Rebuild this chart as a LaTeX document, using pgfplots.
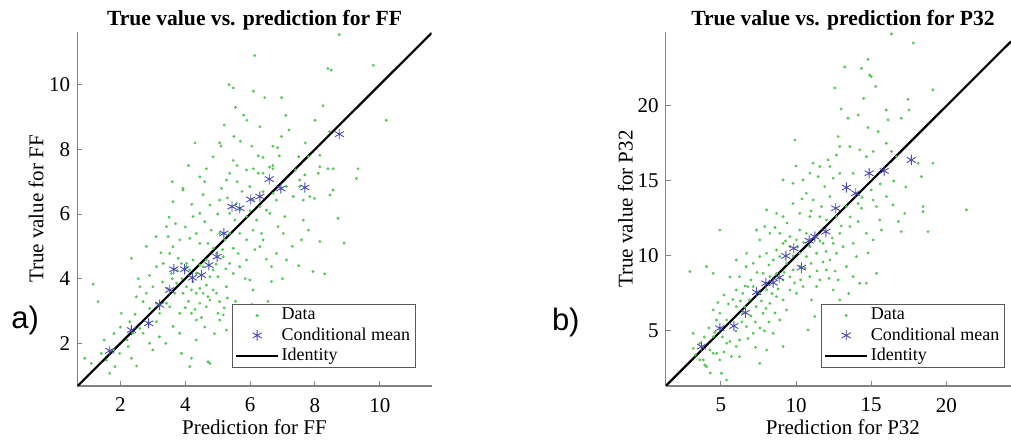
\documentclass[border=0pt]{standalone}
\usepackage{pgfplots}
\pgfplotsset{compat=1.18}
\usepackage{pgfplotstable}
\usepackage{fontspec}
\setmainfont{Liberation Serif}
\newfontfamily\panelfont{Liberation Sans}

\definecolor{datagreen}{RGB}{80,200,80}
\definecolor{meanblue}{RGB}{75,75,180}
\definecolor{axisgray}{RGB}{130,130,130}

% Scatter of true value against prediction, FF
\pgfplotstableread{
x y
8.75 11.55
6.14 10.90
9.80 10.60
8.40 10.50
8.50 10.45
5.48 9.90
6.10 9.80
6.45 9.60
6.97 9.60
10.20 8.90
8.25 9.35
7.10 9.05
5.80 9.06
5.20 8.75
5.90 8.90
8.00 8.90
8.45 8.55
5.06 8.20
5.10 8.10
5.50 8.40
5.70 8.25
6.05 8.10
6.25 7.80
6.40 7.75
6.70 8.10
6.85 8.05
6.97 8.40
7.50 7.77
7.80 7.77
8.40 7.40
8.56 7.40
9.33 7.40
9.28 7.10
8.15 7.82
4.86 7.77
4.65 7.40
5.48 7.66
5.60 7.50
6.10 7.40
6.40 7.26
6.60 7.45
6.70 7.40
6.70 7.50
7.40 7.36
3.93 6.74
4.45 7.15
4.60 7.00
1.16 3.83
1.31 3.29
0.90 1.54
1.10 1.38
1.41 1.69
1.57 1.48
1.83 1.28
1.67 1.07
1.78 1.80
1.98 1.69
2.24 1.90
2.34 1.54
2.03 2.93
2.29 2.67
2.39 2.31
2.60 2.46
2.34 4.63
2.49 3.44
2.70 3.29
2.80 3.55
2.90 3.08
2.60 3.75
2.55 4.00
2.70 2.31
2.90 2.00
3.00 1.80
3.11 3.24
3.21 2.93
3.11 2.67
3.00 3.75
3.11 4.37
3.62 6.38
3.93 6.79
3.42 5.61
3.47 5.30
3.62 4.99
3.83 5.20
3.32 4.47
3.52 4.78
3.78 4.63
3.57 4.16
3.73 3.86
3.93 3.55
3.68 3.55
3.42 3.24
3.52 3.13
3.83 2.93
3.62 2.52
3.83 2.31
3.88 1.69
4.14 1.28
4.19 1.54
4.19 2.93
4.34 2.72
4.45 3.24
4.04 3.75
4.24 3.91
4.45 3.70
4.65 3.80
4.04 4.47
4.24 4.58
4.45 4.42
4.65 4.58
4.04 4.37
4.14 5.25
4.45 5.09
4.34 5.40
4.24 5.92
4.45 6.02
4.60 5.76
4.76 6.28
4.70 5.09
4.86 4.94
4.76 4.06
4.86 3.65
4.76 3.34
4.65 3.13
4.96 3.55
5.06 3.29
5.01 2.93
5.17 2.88
5.06 2.72
5.27 2.41
4.70 1.43
4.76 1.38
4.34 2.10
5.12 6.79
5.06 6.43
5.27 7.05
5.37 7.26
5.37 6.02
5.53 5.81
5.37 5.40
5.48 4.94
5.63 4.78
5.37 4.47
5.48 4.16
5.27 3.75
5.68 4.37
5.89 4.58
5.99 3.96
6.09 3.65
5.68 5.40
5.89 5.20
6.09 5.50
6.20 5.81
6.35 5.40
6.40 5.20
6.30 4.99
6.30 6.23
6.50 6.12
6.40 6.69
6.61 6.02
6.81 6.43
6.71 6.64
6.66 3.91
6.66 4.37
6.09 6.43
5.99 6.85
5.89 7.36
6.25 7.26
7.12 6.85
7.33 6.54
7.53 6.85
7.64 6.43
7.84 6.54
7.99 6.48
7.53 7.05
7.69 7.21
7.58 5.20
7.64 5.81
8.15 5.15
7.94 4.22
8.71 5.87
8.46 6.59
8.56 6.74
8.15 7.46
8.10 7.26
7.07 5.92
6.86 5.61
7.02 5.40
6.81 4.78
7.12 4.58
3.88 4.47
3.99 4.32
4.14 4.27
4.34 4.16
4.55 4.37
4.19 3.65
4.34 3.55
4.55 3.55
4.70 3.44
4.86 4.27
5.01 4.06
4.96 4.78
5.17 4.68
5.06 5.40
5.22 5.20
5.58 6.33
5.68 6.12
5.89 5.92
3.30 3.90
3.45 3.70
3.60 4.00
3.75 4.25
3.90 4.00
4.00 3.10
4.10 3.30
4.30 3.05
4.50 2.80
4.60 2.50
4.90 2.30
5.20 3.10
5.30 3.40
5.55 3.30
5.70 3.00
5.80 2.60
3.20 2.20
3.40 2.00
2.50 1.30
2.20 2.10
2.00 2.50
1.80 2.30
1.50 2.10
2.45 2.90
2.90 4.10
3.25 4.80
3.50 5.90
3.70 5.70
4.00 5.60
4.20 6.30
4.55 6.60
4.80 5.50
5.00 6.00
5.30 6.50
5.60 7.00
5.75 6.70
6.00 6.10
6.15 4.90
6.50 4.60
6.55 3.30
7.00 4.00
7.30 5.00
7.50 4.40
7.80 5.50
8.30 4.15
8.90 5.10
6.90 7.80
7.20 8.60
7.70 8.20
6.30 8.70
5.55 9.30
5.35 10.00
4.30 8.20
4.10 7.50
3.60 7.00
3.10 5.30
2.80 5.00
4.95 4.45
5.15 4.90
5.25 4.30
5.85 4.00
6.05 3.20
}\ffdata

% Conditional mean of the true value, FF
\pgfplotstableread{
x y
1.67 1.77
2.34 2.41
2.87 2.62
3.21 3.19
3.52 3.65
3.65 4.29
3.98 4.29
4.22 4.03
4.50 4.11
4.73 4.42
4.98 4.68
5.19 5.40
5.44 6.23
5.68 6.18
6.02 6.45
6.30 6.54
6.59 7.08
6.95 6.79
7.69 6.82
8.75 8.47
}\ffmean

% Scatter of true value against prediction, P32
\pgfplotstableread{
x y
16.35 24.80
17.80 24.20
14.79 23.10
14.90 22.07
15.00 21.96
13.24 22.60
14.35 22.50
15.30 21.30
12.58 21.20
19.10 21.07
17.45 20.44
17.52 19.73
16.00 19.73
13.46 19.18
14.13 19.40
14.79 18.56
15.46 18.29
16.12 19.07
17.00 19.18
9.92 17.73
12.80 17.96
12.91 17.29
13.58 17.29
14.24 17.07
14.68 16.62
15.13 16.96
16.00 17.51
16.35 16.96
16.68 16.62
18.12 16.18
19.10 16.18
18.34 15.29
12.69 16.73
12.13 16.40
11.14 16.18
11.58 15.96
12.25 15.96
9.14 15.07
9.80 14.84
10.47 15.07
10.92 15.51
11.47 15.29
12.47 15.18
12.91 15.51
13.80 15.51
14.13 13.49
14.35 13.18
15.13 13.73
15.35 13.29
16.01 13.96
16.45 13.40
17.23 12.84
18.45 13.29
18.45 12.96
21.33 13.07
18.78 11.62
17.00 11.62
15.57 12.40
15.68 11.73
14.68 11.51
15.13 11.07
15.35 8.84
14.68 8.18
13.80 10.84
14.02 9.96
12.91 11.51
13.13 10.62
12.80 8.40
12.25 9.73
12.02 9.07
11.58 8.40
11.36 7.96
11.03 7.07
12.47 7.73
12.91 7.07
11.25 5.96
10.80 5.07
11.91 14.62
12.25 13.96
11.69 13.29
10.69 14.18
11.14 13.73
9.80 13.49
10.25 12.84
10.92 12.62
8.70 12.84
9.14 12.62
8.04 13.07
7.92 11.96
8.26 11.51
7.37 11.73
7.59 11.07
8.92 11.51
9.59 11.29
9.14 10.84
10.25 11.73
10.69 11.51
11.36 11.29
11.58 12.62
12.02 12.40
4.93 11.73
2.94 8.96
3.16 3.84
4.05 9.29
4.49 8.84
6.02 9.73
6.68 9.29
6.24 8.62
6.71 10.18
7.15 9.51
7.59 9.96
8.04 10.18
8.48 9.73
8.92 9.96
9.37 9.51
9.81 9.07
10.25 9.29
10.69 9.96
10.92 8.62
10.47 7.96
10.03 7.51
9.59 7.73
9.14 7.07
8.70 7.29
8.26 6.84
9.37 6.40
8.92 5.73
8.48 4.84
9.14 3.96
8.04 3.73
7.59 2.84
7.15 4.84
6.71 5.29
6.24 4.40
6.02 3.96
6.24 3.29
4.49 4.62
4.27 3.73
3.83 3.07
4.05 2.62
4.71 3.51
5.38 4.18
5.04 2.18
5.38 1.73
3.60 4.18
3.16 4.84
6.02 6.62
6.46 6.18
5.38 5.73
6.90 7.07
7.35 6.62
7.80 6.18
7.15 7.96
7.59 7.51
8.04 7.73
7.81 8.84
8.26 8.62
8.70 8.84
9.14 8.40
10.25 10.18
9.59 10.62
10.03 11.07
10.92 10.62
11.36 10.18
11.80 10.84
13.35 9.29
13.80 8.62
14.24 8.18
12.47 10.84
12.69 10.18
13.58 11.96
14.13 12.29
13.35 13.29
12.69 12.62
6.79 7.96
6.46 7.51
6.02 7.73
4.93 6.18
4.71 5.73
4.49 6.40
3.60 3.07
3.93 2.73
4.49 3.51
4.93 3.07
5.50 6.80
5.80 7.10
6.30 7.00
6.60 6.60
7.00 6.00
7.30 5.60
7.60 5.20
7.90 5.00
8.20 5.60
8.60 6.20
8.00 6.50
7.70 7.00
8.40 7.50
8.80 7.80
9.20 8.90
9.60 8.60
9.90 8.20
10.30 8.40
10.60 9.20
11.00 9.50
11.40 9.00
11.80 9.60
12.20 8.50
12.60 9.00
9.80 10.00
10.10 10.60
10.50 10.90
9.30 11.00
8.70 10.40
8.20 9.40
7.40 8.90
7.00 8.40
6.60 8.00
5.60 8.60
5.20 7.40
4.80 6.90
4.20 5.20
4.60 4.90
5.10 4.60
5.60 4.30
6.00 5.00
6.40 5.60
5.20 3.60
5.70 3.30
6.80 4.50
7.30 3.90
3.30 3.40
3.90 4.60
4.30 2.20
11.60 11.00
12.00 10.30
12.40 11.20
13.00 12.00
13.60 12.60
14.40 13.90
15.00 14.40
15.60 14.80
16.50 15.00
17.30 14.60
16.80 12.30
14.80 10.20
13.50 7.50
10.40 13.80
11.00 13.00
9.40 12.20
8.60 11.90
10.00 16.00
13.00 19.80
14.50 20.50
}\pdata

% Conditional mean of the true value, P32
\pgfplotstableread{
x y
3.71 3.96
4.93 5.18
5.86 5.33
6.64 6.22
7.37 7.58
7.99 8.18
8.48 8.22
8.88 8.56
9.32 10.00
9.85 10.51
10.36 9.22
10.87 11.02
11.25 11.29
11.98 11.62
12.64 13.18
13.35 14.56
13.97 14.18
14.86 15.51
15.86 15.67
17.67 16.40
}\pmean

\pgfplotsset{
  panel/.style={
    scale only axis,
    height=177pt,
    axis lines=left,
    axis line style={-, draw=axisgray, line width=0.6pt},
    tick style={draw=axisgray, line width=0.5pt},
    tick align=inside,
    major tick length=2.5pt,
    font=\fontsize{10.5}{12.5}\selectfont,
    /pgf/number format/assume math mode=true,
    xticklabel style={yshift=-2.5pt},
    every axis title shift=0pt,
    title style={font=\fontsize{10.8}{12.5}\selectfont\bfseries, at={(axis description cs:0.5,1)}, anchor=base, yshift=3pt},
    xlabel style={at={(axis description cs:0.5,0)}, anchor=base, yshift=-24.5pt},
    ylabel style={at={(axis description cs:0,0.5)}, anchor=base},
    legend cell align=left,
    legend style={draw=black!65, line width=0.5pt, fill=white,
      font=\fontsize{9}{10.5}\selectfont, inner xsep=1.5pt, inner ysep=0.8pt,
      nodes={inner sep=1.2pt}, anchor=south east},
    legend image code/.code={
      \draw[mark repeat=2, mark phase=2, ##1] plot coordinates {(0cm,0cm) (0.37cm,0cm) (0.74cm,0cm)};
    },
  },
  datapts/.style={only marks, mark=*, mark size=0.5pt, color=datagreen,
    mark options={draw=none, fill=datagreen, fill opacity=0.55}},
  meanpts/.style={only marks, mark=asterisk, mark size=2.6pt, color=meanblue, mark options={line width=0.45pt}},
  idline/.style={black, line width=1.1pt, mark=none},
}

\begin{document}
\begin{tikzpicture}
\useasboundingbox (0,0) rectangle (505.5pt,221.5pt);

\begin{axis}[panel,
  at={(38.65pt,28.5pt)}, anchor=south west,
  width=177.2pt,
  xmin=0.67, xmax=11.6, ymin=0.68, ymax=11.63,
  xtick={2,4,6,8,10}, ytick={2,4,6,8,10},
  title={True value vs. prediction for FF},
  xlabel={Prediction for FF},
  ylabel={True value for FF},
  ylabel style={yshift=17pt},
  legend style={at={(0.956,0.051)}},
]
\addplot[datapts] table[x=x,y=y] {\ffdata};
\addlegendentry{Data}
\addplot[meanpts] table[x=x,y=y] {\ffmean};
\addlegendentry{Conditional mean}
\addplot[idline] coordinates {(0.67,0.67) (11.6,11.6)};
\addlegendentry{Identity}
\end{axis}

\begin{axis}[panel,
  at={(332.85pt,28.5pt)}, anchor=south west,
  width=172.65pt,
  xmin=1.33, xmax=24.3, ymin=1.33, ymax=24.93,
  xtick={5,10,15,20}, ytick={5,10,15,20},
  title={True value vs. prediction for P32},
  title style={xshift=2.3pt},
  xlabel={Prediction for P32},
  xlabel style={xshift=2.3pt},
  ylabel={True value for P32},
  ylabel style={yshift=16.5pt},
  legend style={at={(0.983,0.051)}},
]
\addplot[datapts] table[x=x,y=y] {\pdata};
\addlegendentry{Data}
\addplot[meanpts] table[x=x,y=y] {\pmean};
\addlegendentry{Conditional mean}
\addplot[idline] coordinates {(1.33,1.33) (24.3,24.3)};
\addlegendentry{Identity}
\end{axis}

\node[anchor=base west, inner sep=0pt, font=\panelfont\fontsize{15.5}{18}\selectfont] at (5.5pt,57pt) {a)};
\node[anchor=base west, inner sep=0pt, font=\panelfont\fontsize{15.5}{18}\selectfont] at (275.8pt,56pt) {b)};
\end{tikzpicture}
\end{document}
